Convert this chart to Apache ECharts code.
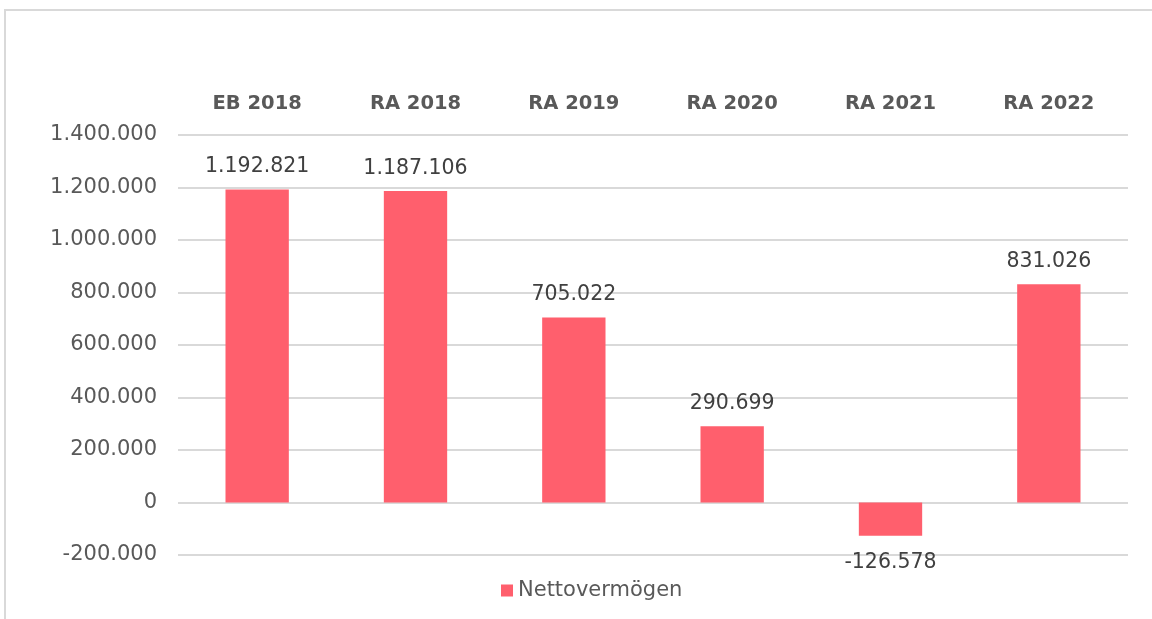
<!DOCTYPE html>
<html>
<head>
<meta charset="utf-8">
<script src="https://cdn.jsdelivr.net/npm/echarts@6/dist/echarts.min.js"></script>
<style>
  html, body { margin: 0; padding: 0; background: #fff; }
  #chart { width: 1152px; height: 619px; }
</style>
</head>
<body>
<div id="chart"></div>
<script>
// Nettovermögen je Abschluss
const categories = ['EB 2018', 'RA 2018', 'RA 2019', 'RA 2020', 'RA 2021', 'RA 2022'];
const nettoVermoegen = [1192821, 1187106, 705022, 290699, -126578, 831026];
const seriesName = 'Nettovermögen';

// 1.234.567 style
function fmt(v) {
  let s = Math.abs(Math.round(v)).toString().replace(/\B(?=(\d{3})+(?!\d))/g, '.');
  return (v < 0 ? '-' : '') + s;
}

const ec = echarts.init(document.getElementById('chart'));
const fontFam = '"DejaVu Sans", Verdana, sans-serif';

let option = {
  animation: false,
  graphic: [{
    type: 'rect',
    shape: { x: 5, y: 10, width: 1300, height: 800 },
    style: { fill: 'none', stroke: '#d9d9d9', lineWidth: 2 },
    silent: true
  }],
  grid: { left: 178, right: 24, top: 135, bottom: 64 },
  legend: {
    data: [seriesName],
    left: 496,
    top: 575,
    itemWidth: 12,
    itemHeight: 12,
    itemGap: 6,
    icon: 'rect',
    textStyle: { color: '#595959', fontSize: 21, fontFamily: fontFam }
  },
  xAxis: {
    type: 'category',
    position: 'top',
    data: categories,
    axisLine: { show: false },
    axisTick: { show: false },
    axisLabel: {
      color: '#595959', fontSize: 19.5, fontWeight: 'bold',
      fontFamily: fontFam, margin: 21
    }
  },
  yAxis: {
    type: 'value',
    min: -200000,
    max: 1400000,
    interval: 200000,
    axisLine: { show: false },
    axisTick: { show: false },
    splitLine: { lineStyle: { color: '#d9d9d9', width: 2 } },
    axisLabel: {
      color: '#595959', fontSize: 21, fontFamily: fontFam, margin: 21,
      formatter: fmt
    }
  },
  series: [{
    name: seriesName,
    type: 'bar',
    barWidth: '40%',
    itemStyle: { color: '#ff5f6d' },
    data: nettoVermoegen.map(v => ({
      value: v,
      label: v < 0 ? { position: 'bottom', distance: 16 } : { position: 'top' }
    })),
    label: {
      show: true,
      distance: 12,
      color: '#404040',
      fontSize: 20.5,
      fontFamily: fontFam,
      formatter: p => fmt(p.value)
    }
  }]
};
ec.setOption(option);
</script>
</body>
</html>
